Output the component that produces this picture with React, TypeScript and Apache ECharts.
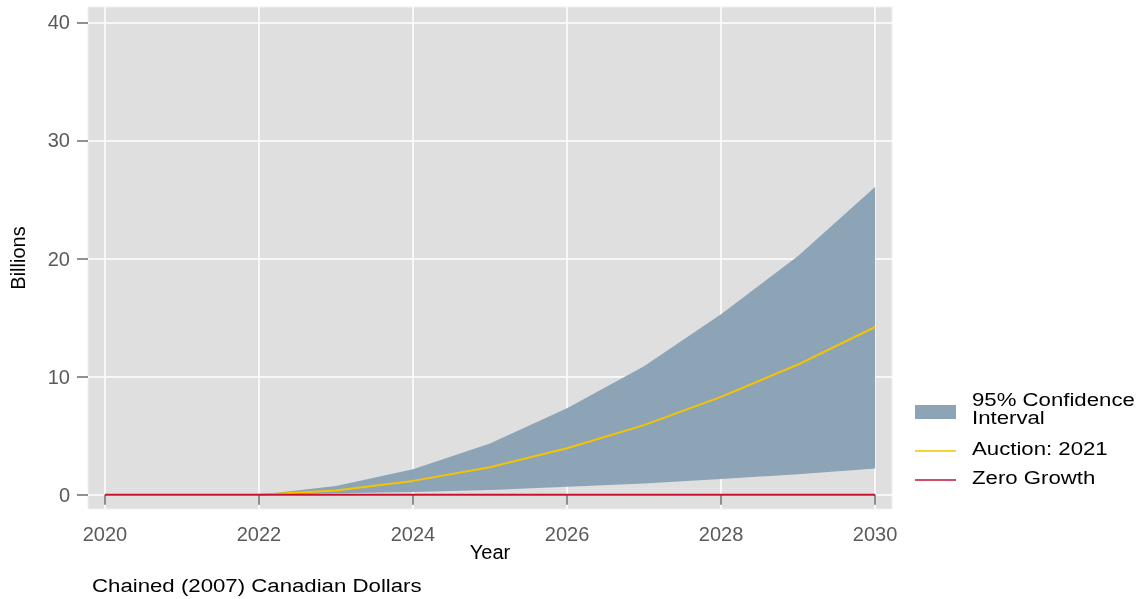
import React, { useEffect, useRef } from "react";
import * as echarts from "echarts";

// Projection years and values (billions of chained 2007 CAD)
const years = [2020, 2021, 2022, 2023, 2024, 2025, 2026, 2027, 2028, 2029, 2030];
const bandYears = [2022, 2023, 2024, 2025, 2026, 2027, 2028, 2029, 2030];
const ciLower = [0, 0.14, 0.23, 0.4, 0.68, 0.95, 1.33, 1.75, 2.23];
const ciUpper = [0, 0.74, 2.17, 4.35, 7.33, 10.89, 15.29, 20.22, 26.06];
const auction2021 = [0, 0.37, 1.18, 2.34, 3.95, 5.9, 8.29, 11.03, 14.21];
const zeroGrowth = [0, 0, 0, 0, 0, 0, 0, 0, 0, 0, 0];

const xTicks = [2020, 2022, 2024, 2026, 2028, 2030];
const yTicks = [0, 10, 20, 30, 40];

const bandColor = "#8da3b6";
const auctionColor = "#f5c400";
const zeroColor = "#c8102e";
const font = "'Liberation Sans', Arial, sans-serif";
const textWiden = 1.2;

export default function App() {
  const ref = useRef<HTMLDivElement>(null);

  useEffect(() => {
    if (!ref.current) return;
    const chart = echarts.init(ref.current, undefined, { renderer: "svg" });

    const bandData = bandYears.map((y, i) => [y, ciLower[i], ciUpper[i]]);
    const auctionData = bandYears.map((y, i) => [y, auction2021[i]]);
    const zeroData = years.map((y, i) => [y, zeroGrowth[i]]);

    const legendX = 915;
    const label = (text: string, x: number, top: number, size: number, widen = textWiden) => ({
      type: "text",
      x,
      y: top,
      scaleX: widen,
      style: {
        text,
        fontSize: size,
        fill: "#000",
        fontFamily: font,
        verticalAlign: "top",
      },
    });

    chart.setOption({
      animation: false,
      textStyle: { fontFamily: font },
      grid: {
        left: 88,
        right: 248,
        top: 7,
        bottom: 90,
        show: true,
        backgroundColor: "#dfdfdf",
        borderColor: "#f0f0f0",
        borderWidth: 1,
      },
      xAxis: {
        type: "value",
        min: 2019.78,
        max: 2030.22,
        name: "Year",
        nameLocation: "middle",
        nameGap: 33,
        nameMoveOverlap: false,
        nameTextStyle: { color: "#000", fontSize: 20, fontFamily: font },
        axisLine: { show: false },
        axisTick: {
          show: true,
          length: 10,
          customValues: xTicks,
          lineStyle: { color: "#6b6b6b", width: 1.5 },
        },
        axisLabel: {
          customValues: xTicks,
          color: "#5a5a5a",
          fontSize: 20,
          margin: 15,
          fontFamily: font,
          formatter: (v: number) => String(v),
        },
        splitLine: { show: true, lineStyle: { color: "#ffffff", width: 1.5 } },
      },
      yAxis: {
        type: "value",
        min: -1.2,
        max: 41.3,
        name: "Billions",
        nameLocation: "middle",
        nameGap: 60,
        nameMoveOverlap: false,
        nameTextStyle: { color: "#000", fontSize: 20, fontFamily: font },
        axisLine: { show: false },
        axisTick: {
          show: true,
          length: 11,
          customValues: yTicks,
          lineStyle: { color: "#6b6b6b", width: 1.5 },
        },
        axisLabel: {
          customValues: yTicks,
          color: "#5a5a5a",
          fontSize: 20,
          margin: 18,
          fontFamily: font,
        },
        splitLine: { show: true, lineStyle: { color: "#ffffff", width: 1.5 } },
      },
      series: [
        {
          name: "95% Confidence Interval",
          type: "custom",
          data: bandData,
          encode: { x: 0, y: [1, 2] },
          z: 2,
          renderItem: (params: any, api: any) => {
            if (params.dataIndex !== 0) return null;
            const top = bandData.map((d) => api.coord([d[0], d[2]]));
            const bottom = bandData
              .slice()
              .reverse()
              .map((d) => api.coord([d[0], d[1]]));
            return {
              type: "polygon",
              shape: { points: top.concat(bottom) },
              style: { fill: bandColor },
            };
          },
        },
        {
          name: "Auction: 2021",
          type: "line",
          data: auctionData,
          symbol: "none",
          lineStyle: { color: auctionColor, width: 2 },
          z: 3,
        },
        {
          name: "Zero Growth",
          type: "line",
          data: zeroData,
          symbol: "none",
          lineStyle: { color: zeroColor, width: 2 },
          z: 4,
        },
      ],
      graphic: [
        {
          type: "rect",
          shape: { x: legendX, y: 405, width: 41, height: 14 },
          style: { fill: bandColor },
        },
        label("95% Confidence", 972, 390.5, 18.5),
        label("Interval", 972, 408.5, 18.5),
        {
          type: "line",
          shape: { x1: legendX, y1: 451, x2: legendX + 41, y2: 451 },
          style: { stroke: auctionColor, lineWidth: 1.5 },
        },
        label("Auction: 2021", 972, 439.5, 18.5),
        {
          type: "line",
          shape: { x1: legendX, y1: 480, x2: legendX + 41, y2: 480 },
          style: { stroke: zeroColor, lineWidth: 1.5 },
        },
        label("Zero Growth", 972, 468.5, 18.5),
        label("Chained (2007) Canadian Dollars", 92, 576, 19, 1.17),
      ],
    });

    return () => chart.dispose();
  }, []);

  return (
    <div
      ref={ref}
      style={{ position: "fixed", left: 0, top: 0, width: 1140, height: 599 }}
    />
  );
}
